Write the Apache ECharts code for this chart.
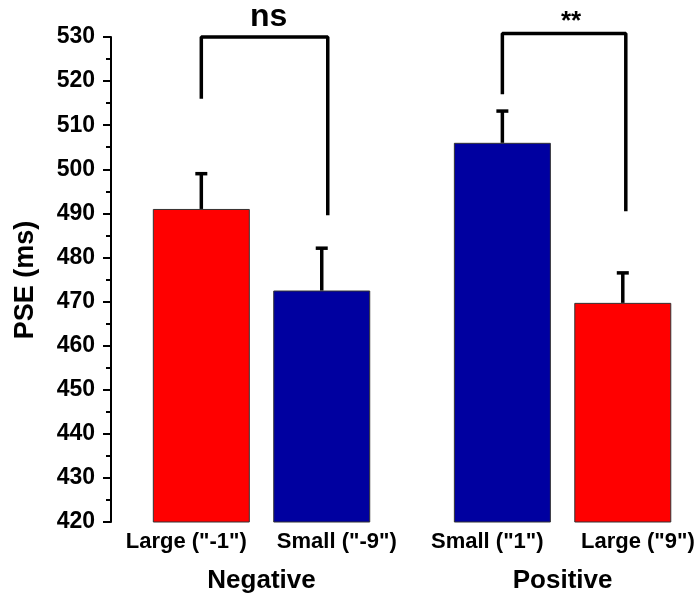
<!DOCTYPE html>
<html>
<head>
<meta charset="utf-8">
<script src="https://cdn.jsdelivr.net/npm/echarts@6/dist/echarts.min.js"></script>
<style>html,body{margin:0;padding:0;background:#fff;}#c{width:698px;height:595px;}</style>
</head>
<body>
<div id="c"></div>
<script>
const categories = ['Large ("-1")', 'Small ("-9")', 'Small ("1")', 'Large ("9")'];
const positions = [1.5, 3.5, 6.5, 8.5];
const labelPositions = [1.25, 3.75, 6.25, 8.75];
const values = [491, 472.5, 506, 469.7];
const errors = [8, 9.6, 7.2, 6.8];
const barColors = ['#ff0000', '#0000a0', '#0000a0', '#ff0000'];
const groups = ['Negative', 'Positive'];
const groupPositions = [2.5, 7.5];
const yTicks = [420, 430, 440, 450, 460, 470, 480, 490, 500, 510, 520, 530];
const bracketNs = [[1.5, 516], [1.5, 530], [3.6, 530], [3.6, 489.6]];
const bracketStar = [[6.5, 517], [6.5, 530.8], [8.55, 530.8], [8.55, 490.5]];

const FONT = '"Liberation Sans", Arial, sans-serif';
const chart = echarts.init(document.getElementById('c'));

function labelFor(list, pos) {
  return function (v) {
    for (let i = 0; i < pos.length; i++) if (Math.abs(v - pos[i]) < 1e-6) return list[i];
    return '';
  };
}

chart.setOption({
  backgroundColor: '#ffffff',
  animation: false,
  grid: { left: 111, right: 15, top: 37, bottom: 73 },
  xAxis: [{
    type: 'value', min: 0, max: 9.5, interval: 0.25,
    axisLine: { show: false }, axisTick: { show: false }, splitLine: { show: false },
    axisLabel: { formatter: labelFor(categories, labelPositions), color: '#000', fontFamily: FONT, fontWeight: 'bold', fontSize: 22, margin: 9, showMinLabel: true, showMaxLabel: true, interval: 0 }
  }, {
    type: 'value', min: 0, max: 9.5, interval: 0.5, position: 'bottom', offset: 36,
    axisLine: { show: false }, axisTick: { show: false }, splitLine: { show: false },
    axisLabel: { formatter: labelFor(groups, groupPositions), color: '#000', fontFamily: FONT, fontWeight: 'bold', fontSize: 26, margin: 10, interval: 0 }
  }],
  yAxis: {
    type: 'value', min: yTicks[0], max: yTicks[yTicks.length - 1], interval: 10,
    axisLine: { show: true, lineStyle: { color: '#000', width: 2 } },
    axisTick: { show: true, length: 8, lineStyle: { color: '#000', width: 2 } },
    minorTick: { show: true, splitNumber: 2, length: 5, lineStyle: { color: '#000', width: 2 } },
    splitLine: { show: false },
    axisLabel: { color: '#000', fontFamily: FONT, fontWeight: 'bold', fontSize: 23, margin: 16 }
  },
  series: [{
    type: 'bar',
    xAxisIndex: 0,
    barWidth: 97,
    data: values.map((v, i) => ({ value: [positions[i], v], itemStyle: { color: barColors[i] } })),
    itemStyle: { borderColor: '#333', borderWidth: 1 }
  }, {
    type: 'custom',
    xAxisIndex: 0,
    z: 5,
    data: values.map((v, i) => [positions[i], v, v + errors[i]]),
    renderItem: function (params, api) {
      const b = api.coord([api.value(0), api.value(1)]);
      const t = api.coord([api.value(0), api.value(2)]);
      const style = { stroke: '#000', lineWidth: 3.5 };
      return {
        type: 'group',
        children: [
          { type: 'line', shape: { x1: b[0], y1: b[1], x2: t[0], y2: t[1] }, style: style },
          { type: 'line', shape: { x1: t[0] - 6, y1: t[1], x2: t[0] + 6, y2: t[1] }, style: style }
        ]
      };
    }
  }, {
    type: 'line', xAxisIndex: 0, data: bracketNs, symbol: 'none', clip: false,
    lineStyle: { color: '#000', width: 3.5 }, z: 6
  }, {
    type: 'line', xAxisIndex: 0, data: bracketStar, symbol: 'none', clip: false,
    lineStyle: { color: '#000', width: 3.5 }, z: 6
  }],
  graphic: [
    { type: 'text', left: 250, top: 1, style: { text: 'ns', font: 'bold 32px ' + FONT, fill: '#000' } },
    { type: 'text', left: 561, top: 9, style: { text: '**', font: 'bold 26px ' + FONT, fill: '#000' } },
    { type: 'text', x: 26, y: 280, rotation: Math.PI / 2,
      style: { text: 'PSE (ms)', font: 'bold 27px ' + FONT, fill: '#000', align: 'center', verticalAlign: 'middle' } }
  ]
});
</script>
</body>
</html>
